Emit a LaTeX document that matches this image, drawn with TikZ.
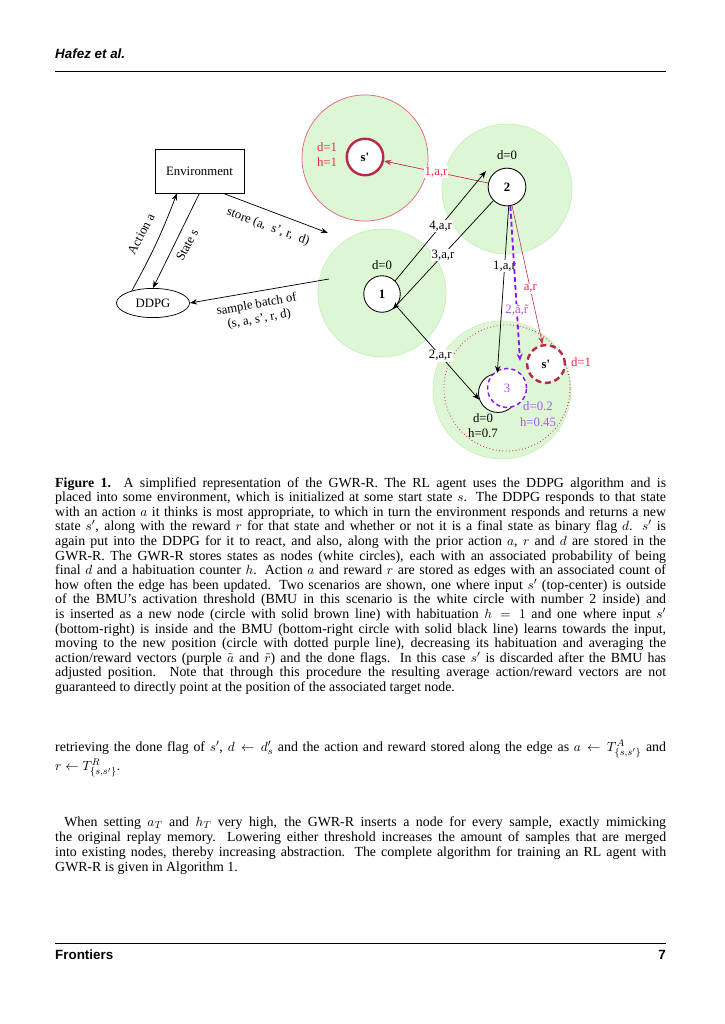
\documentclass[tikz,border=0pt]{standalone}
\usepackage{fontspec}
\setmainfont{Liberation Serif}
\newfontfamily\hdrfont{Liberation Sans}
\usetikzlibrary{arrows.meta,shapes.geometric}
\definecolor{gfill}{RGB}{221,247,212}
\definecolor{gline}{RGB}{198,236,186}
\definecolor{pinkline}{RGB}{232,100,125}
\definecolor{crim}{RGB}{185,40,70}
\definecolor{redtxt}{RGB}{235,45,65}
\definecolor{rededge}{RGB}{200,50,80}
\definecolor{purp}{RGB}{140,20,250}
\definecolor{purptxt}{RGB}{170,85,240}
\newcommand\figfont{\fontsize{10.5}{12.5}\selectfont}
\newcommand\txtfont{\fontsize{11.4}{12}\selectfont}
\begin{document}
\begin{tikzpicture}[x=0.8218pt,y=-0.8218pt,
  region/.style={fill=gfill, draw=gline, line width=0.5pt},
  gnode/.style={circle, draw=black, fill=white, line width=0.7pt, minimum size=31pt, inner sep=0pt, font=\figfont\bfseries},
  fig/.style={font=\figfont, inner sep=1pt},
  redlbl/.style={font=\figfont, inner sep=1pt, text=redtxt},
  purplbl/.style={font=\figfont, inner sep=1pt, text=purptxt},
  elabel/.style={font=\figfont, fill=white, inner sep=0.8pt},
  arr/.style={-{Stealth[length=6pt,width=4.5pt]}, line width=0.6pt},
  redarr/.style={-{Stealth[length=6pt,width=4.5pt]}, line width=0.6pt, draw=rededge},
  purparr/.style={-{Stealth[length=6pt,width=5pt]}, line width=1.5pt, draw=purp, dash pattern=on 4pt off 2.5pt},
  envbox/.style={draw, rectangle, minimum width=73pt, minimum height=36pt, line width=0.6pt, font=\figfont},
  ddpgbox/.style={draw, ellipse, minimum width=60pt, minimum height=24pt, line width=0.6pt, inner sep=0pt, font=\figfont},
  body/.style={anchor=base west, inner sep=0pt}
]
\useasboundingbox (0,0) rectangle (724,1024);

% header and footer
\node[body] (hdr) at (55,59) {\hdrfont\fontsize{11}{13}\selectfont\bfseries\itshape Hafez et al.};
\draw[line width=0.6pt] (55,71) -- (666,71);
\draw[line width=0.6pt] (55,943) -- (666,943);
\node[body] (ftr) at (55,959) {\hdrfont\fontsize{11}{13}\selectfont\bfseries Frontiers};
\node[anchor=base east, inner sep=0pt] (pg) at (666,959) {\hdrfont\fontsize{11}{13}\selectfont\bfseries 7};

% regions
\draw[fill=gfill, draw=pinkline, line width=0.6pt] (365,158) circle[radius=51.8pt];
\draw[region] (507,189) circle[radius=53.4pt];
\draw[region] (382,293) circle[radius=52.6pt];
\draw[region] (502,390) circle[radius=56.7pt];
\draw[draw=rededge, dotted, line width=0.7pt] (507,388) circle[radius=51.8pt];

% GWR nodes
\node[gnode, draw=crim, line width=2pt, minimum size=30pt] (sp1) at (365,157) {s\textquotesingle};
\node[gnode] (n2) at (507,187) {2};
\node[gnode, minimum size=30pt] (n1) at (382,294) {1};
\node[gnode, minimum size=32pt] (n3b) at (498,393) {};
\node[gnode, draw=purp, dash pattern=on 3.5pt off 2.5pt, line width=1.2pt, text=purptxt, minimum size=32pt, font=\figfont] (n3) at (507,388) {3};
\node[gnode, draw=crim, line width=2pt, dash pattern=on 5pt off 3pt, minimum size=31pt] (sp2) at (546,364) {s\textquotesingle};

% node labels
\node[redlbl, align=center, font=\fontsize{10.5}{12.3}\selectfont] (dh1) at (327,155) {d=1\\h=1};
\node[fig] (d2) at (507,155) {d=0};
\node[fig] (d1) at (382,265) {d=0};
\node[fig, align=center, font=\fontsize{10.5}{12.5}\selectfont] (dh3) at (483,426) {d=0\\h=0.7};
\node[purplbl, align=center, font=\fontsize{10.5}{13.5}\selectfont] (dh3p) at (538,414) {d=0.2\\h=0.45};
\node[redlbl] (d1b) at (581,362) {d=1};

% GWR edges
\coordinate (t4) at (486,171);
\coordinate (tp) at (520,361);
\draw[redarr] (n2) -- (sp1) node[elabel, text=redtxt, pos=0.5] {1,a,r};
\draw[arr] (n1.45) -- (t4) node[elabel, pos=0.5] {4,a,r};
\draw[arr] (n2.225) -- (n1.-55) node[elabel, pos=0.5] {3,a,r};
\draw[arr] (n1.-40) -- (n3b.200) node[elabel, pos=0.53] {2,a,r};
\draw[arr] (n2.-85) -- (n3b.92) node[elabel, pos=0.36] {1,a,r};
\draw[purparr] (n2.-80) -- (tp) node[elabel, text=purptxt, pos=0.67] {2,\~a,\~r};
\draw[redarr, line width=0.5pt] (n2.-75) -- (sp2.100) node[elabel, text=redtxt, pos=0.6] {a,r};

% left part
\node[envbox] (env) at (199.5,171) {Environment};
\node[ddpgbox] (ddpg) at (153,303) {DDPG};
\coordinate (st) at (328,233);
\coordinate (sm) at (329,279);
\draw[arr] (ddpg.150) to[bend right=4] ([xshift=-18.5pt]env.south);
\draw[arr] (env.south) -- (ddpg.north);
\draw[arr] ([xshift=19.3pt]env.south) -- (st);
\draw[arr] (sm) -- (ddpg.east);
\node[fig, rotate=62] (lact) at (141,234) {Action a};
\node[fig, rotate=62] (lst) at (187,245) {State s};
\node[fig, rotate=-20] (lstore) at (268,227) {store (a,\ \ s', r,\ \ d)};
\node[fig, rotate=10, align=center, font=\fontsize{10.5}{12}\selectfont] (lsample) at (258,312) {sample batch of\\(s, a, s', r, d)};

% caption
\node[body] (cap) at (55,487) {\parbox[t]{502pt}{\txtfont
\textbf{Figure 1.}\ \ A simplified representation of the GWR-R. The RL agent uses the DDPG algorithm and is\linebreak
placed into some environment, which is initialized at some start state $s$. The DDPG responds to that state\linebreak
with an action $a$ it thinks is most appropriate, to which in turn the environment responds and returns a new\linebreak
state $s'$, along with the reward $r$ for that state and whether or not it is a final state as binary flag $d$. $s'$ is\linebreak
again put into the DDPG for it to react, and also, along with the prior action $a$, $r$ and $d$ are stored in the\linebreak
GWR-R. The GWR-R stores states as nodes (white circles), each with an associated probability of being\linebreak
final $d$ and a habituation counter $h$. Action $a$ and reward $r$ are stored as edges with an associated count of\linebreak
how often the edge has been updated. Two scenarios are shown, one where input $s'$ (top-center) is outside\linebreak
of the BMU's activation threshold (BMU in this scenario is the white circle with number 2 inside) and\linebreak
is inserted as a new node (circle with solid brown line) with habituation $h=1$ and one where input $s'$\linebreak
(bottom-right) is inside and the BMU (bottom-right circle with solid black line) learns towards the input,\linebreak
moving to the new position (circle with dotted purple line), decreasing its habituation and averaging the\linebreak
action/reward vectors (purple $\tilde{a}$ and $\tilde{r}$) and the done flags. In this case $s'$ is discarded after the BMU has\linebreak
adjusted position. Note that through this procedure the resulting average action/reward vectors are not\linebreak
guaranteed to directly point at the position of the associated target node.}};

% body text
\node[body] (b1) at (55,751) {\parbox[t]{502pt}{\txtfont
retrieving the done flag of $s'$, $d \leftarrow d'_s$ and the action and reward stored along the edge as $a \leftarrow T^{A}_{\{s,s'\}}$ and\linebreak
$r \leftarrow T^{R}_{\{s,s'\}}$.}};
\node[body] (b2) at (55,826) {\parbox[t]{502pt}{\fontsize{11.4}{12.4}\selectfont
\hspace*{7.5pt}When setting $a_T$ and $h_T$ very high, the GWR-R inserts a node for every sample, exactly mimicking\linebreak
the original replay memory. Lowering either threshold increases the amount of samples that are merged\linebreak
into existing nodes, thereby increasing abstraction. The complete algorithm for training an RL agent with\linebreak
GWR-R is given in Algorithm 1.}};
\end{tikzpicture}
\end{document}
